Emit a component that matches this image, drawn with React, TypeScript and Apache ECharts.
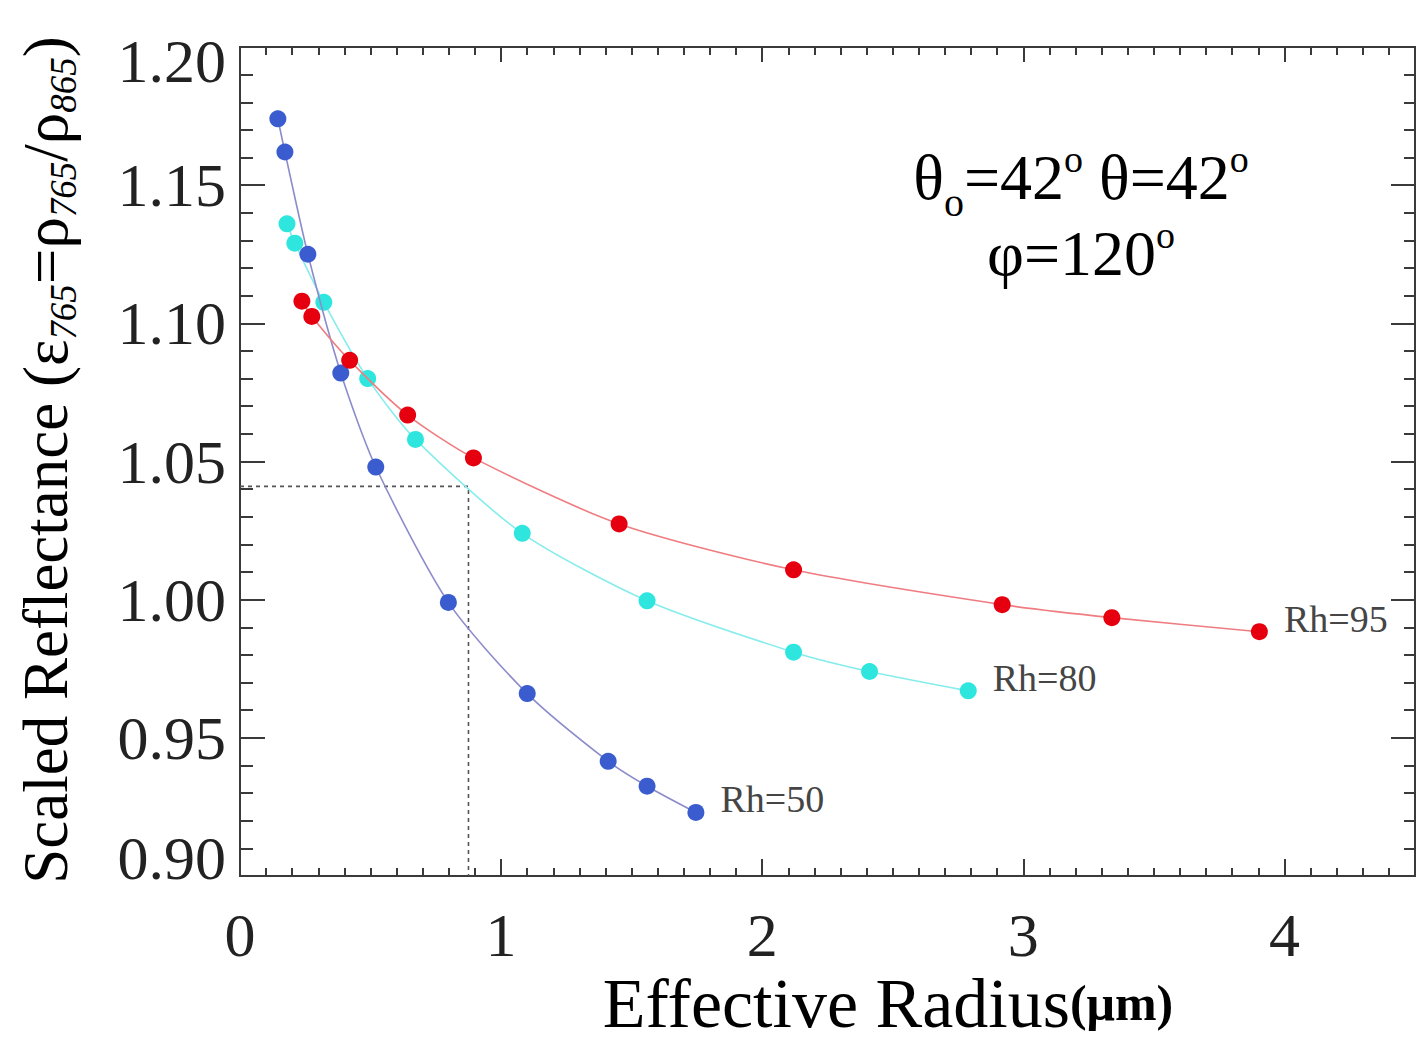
import React, { useEffect, useRef } from "react";
import * as echarts from "echarts";

// Effective radius (µm) and scaled reflectance for three relative-humidity cases
const rh50X = [0.145, 0.172, 0.26, 0.386, 0.52, 0.798, 1.1, 1.41, 1.559, 1.746];
const rh50Y = [1.174, 1.162, 1.125, 1.082, 1.048, 0.999, 0.966, 0.9415, 0.9325, 0.923];
const rh80X = [0.18, 0.21, 0.321, 0.489, 0.672, 1.081, 1.559, 2.12, 2.411, 2.789];
const rh80Y = [1.136, 1.129, 1.1076, 1.08, 1.058, 1.024, 0.9996, 0.981, 0.974, 0.967];
const rh95X = [0.237, 0.275, 0.42, 0.642, 0.894, 1.452, 2.12, 2.919, 3.339, 3.904];
const rh95Y = [1.108, 1.1025, 1.0866, 1.0668, 1.0513, 1.0274, 1.0108, 0.9982, 0.9935, 0.9884];
const seriesLabels = ["Rh=50", "Rh=80", "Rh=95"];

// Dotted read-off guide: measured ratio -> retrieved radius
const guideX = [0, 0.875, 0.875];
const guideY = [1.041, 1.041, 0.9];

// Axis ranges and tick spacing
const xRange = [0, 4.5];
const yRange = [0.9, 1.2];
const xMajor = 1;
const xMinor = 0.1;
const yMajor = 0.05;

const FONT = "'Liberation Serif', 'DejaVu Serif', serif";
const INK = "#222";
const AXIS = "#3a3a3a";

function curve(name: string, xs: number[], ys: number[], dot: string, line: string, z: number) {
  const data = xs.map((x, i) => {
    const item: any = { value: [x, ys[i]] };
    if (i === xs.length - 1) {
      item.label = {
        show: true,
        formatter: name,
        position: "right",
        distance: 16,
        offset: [0, -13],
        fontSize: 38,
        fontFamily: FONT,
        color: "#454545",
      };
    }
    return item;
  });
  return {
    type: "line",
    name,
    data,
    smooth: 0.25,
    symbol: "circle",
    symbolSize: 17,
    itemStyle: { color: dot },
    lineStyle: { color: line, width: 1.6 },
    z,
  };
}

function xAxisDef(position: string, interval: number, tickLen: number, withLabels: boolean) {
  return {
    type: "value",
    gridIndex: 0,
    position,
    min: xRange[0],
    max: xRange[1],
    interval,
    axisLine: { show: withLabels, onZero: false, lineStyle: { color: AXIS, width: 2 } },
    axisTick: { show: true, inside: true, length: tickLen, lineStyle: { color: AXIS, width: 2 } },
    axisLabel: withLabels
      ? { show: true, showMaxLabel: false, fontSize: 62, fontFamily: FONT, color: INK, margin: 28 }
      : { show: false },
    splitLine: { show: false },
  };
}

function yAxisDef(position: string, major: number, minor: number, withLabels: boolean) {
  return {
    type: "value",
    gridIndex: 0,
    position,
    min: yRange[0],
    max: yRange[1],
    interval: yMajor,
    axisLine: { show: true, onZero: false, lineStyle: { color: AXIS, width: 2 } },
    axisTick: { show: true, inside: true, length: major, lineStyle: { color: AXIS, width: 2 } },
    minorTick: { show: true, splitNumber: 5, length: minor, lineStyle: { color: AXIS, width: 2 } },
    axisLabel: withLabels
      ? {
          show: true,
          margin: 14,
          fontSize: 62,
          fontFamily: FONT,
          color: INK,
          formatter: (v: number) => {
            const s = v.toFixed(2);
            if (Math.abs(v - yRange[1]) < 1e-6) return `{hi|${s}}`;
            if (Math.abs(v - yRange[0]) < 1e-6) return `{lo|${s}}`;
            return s;
          },
          rich: {
            hi: { fontSize: 62, fontFamily: FONT, color: INK, padding: [28, 0, 0, 0] },
            lo: { fontSize: 62, fontFamily: FONT, color: INK, padding: [0, 0, 36, 0] },
          },
        }
      : { show: false },
    splitLine: { show: false },
  };
}

export default function App() {
  const ref = useRef<HTMLDivElement>(null);

  useEffect(() => {
    if (!ref.current) return;
    const chart = echarts.init(ref.current, null, { renderer: "svg" });

    const main = { fontSize: 63, fontFamily: FONT, color: INK, lineHeight: 72 };
    const sub = { fontSize: 37, fontFamily: FONT, color: INK, fontStyle: "italic", lineHeight: 37, verticalAlign: "bottom" };
    const big = { fontSize: 64, fontFamily: "'Liberation Serif', serif", color: "#000", lineHeight: 90 };
    const sup = { fontSize: 38, fontFamily: "'Liberation Serif', serif", color: "#000", lineHeight: 38, verticalAlign: "top", padding: [8, 0, 0, 0] };
    const low = { fontSize: 40, fontFamily: "'Liberation Serif', serif", color: "#000", lineHeight: 40, verticalAlign: "bottom" };

    chart.setOption({
      animation: false,
      backgroundColor: "#ffffff",
      grid: {
        left: 240,
        top: 47,
        width: 1175,
        height: 829,
        show: true,
        borderColor: AXIS,
        borderWidth: 2,
        backgroundColor: "transparent",
      },
      xAxis: [
        xAxisDef("bottom", xMajor, 17, true),
        xAxisDef("bottom", xMinor, 8, false),
        xAxisDef("top", xMajor, 15, false),
        xAxisDef("top", xMinor, 8, false),
      ],
      yAxis: [yAxisDef("left", 25, 13, true), yAxisDef("right", 24, 11, false)],
      series: [
        {
          type: "line",
          name: "guide",
          data: guideX.map((x, i) => [x, guideY[i]]),
          symbol: "none",
          silent: true,
          lineStyle: { color: "#555", width: 1.6, type: [4, 4] },
          z: 1,
        },
        curve(seriesLabels[1], rh80X, rh80Y, "#2fe6df", "#86ecec", 2),
        curve(seriesLabels[0], rh50X, rh50Y, "#3a5ccf", "#8d8ccb", 3),
        curve(seriesLabels[2], rh95X, rh95Y, "#e6000f", "#ef7c80", 4),
      ],
      graphic: [
        {
          type: "text",
          x: 46,
          y: 460,
          rotation: Math.PI / 2,
          style: {
            text: "{m|Scaled Reflectance (ε}{s|765}{m|=ρ}{s|765}{m|/ρ}{s|865}{m|)}",
            rich: { m: main, s: sub },
            align: "center",
            verticalAlign: "middle",
          },
        },
        {
          type: "text",
          x: 888,
          y: 1003,
          style: {
            text: "{m|Effective Radius}{u|(μm)}",
            rich: {
              m: { fontSize: 70, fontFamily: FONT, color: INK, lineHeight: 66 },
              u: { fontSize: 50, fontFamily: FONT, color: INK, fontWeight: "bold", lineHeight: 66 },
            },
            align: "center",
            verticalAlign: "middle",
          },
        },
        {
          type: "text",
          x: 1081,
          y: 177,
          style: {
            text: "{m|θ}{b|o}{m|=42}{p|o}{m| θ=42}{p|o}",
            rich: { m: big, p: sup, b: low },
            align: "center",
            verticalAlign: "middle",
          },
        },
        {
          type: "text",
          x: 1081,
          y: 253,
          style: {
            text: "{m|φ=120}{p|o}",
            rich: { m: big, p: sup },
            align: "center",
            verticalAlign: "middle",
          },
        },
      ],
    });

    return () => chart.dispose();
  }, []);

  return (
    <div
      ref={ref}
      style={{ position: "absolute", left: 0, top: 0, width: 1416, height: 1042, background: "#fff" }}
    />
  );
}
